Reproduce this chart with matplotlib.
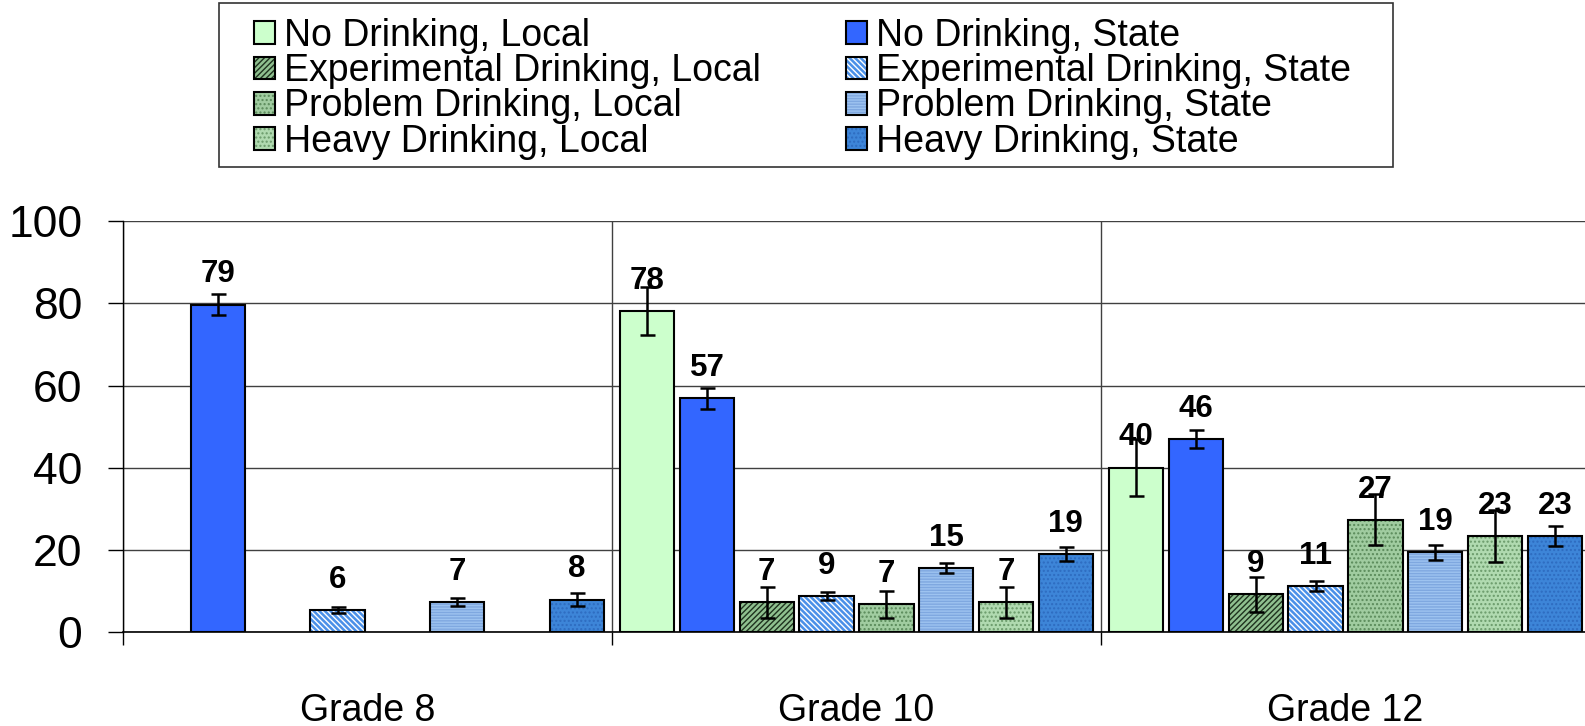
import numpy as np
import matplotlib
matplotlib.use("Agg")
import matplotlib.pyplot as plt
from matplotlib.patches import Rectangle

plt.rcParams['font.family'] = ['Liberation Sans', 'DejaVu Sans']
plt.rcParams['hatch.linewidth'] = 1.0

grades = ['Grade 8', 'Grade 10', 'Grade 12']
series_names = ['No Drinking, Local', 'No Drinking, State',
                'Experimental Drinking, Local', 'Experimental Drinking, State',
                'Problem Drinking, Local', 'Problem Drinking, State',
                'Heavy Drinking, Local', 'Heavy Drinking, State']

no_local = [np.nan, 78.2, 40.0]
no_state = [79.7, 56.9, 46.9]
exp_local = [np.nan, 7.2, 9.2]
exp_state = [5.4, 8.7, 11.1]
prob_local = [np.nan, 6.7, 27.3]
prob_state = [7.3, 15.6, 19.4]
heavy_local = [np.nan, 7.2, 23.4]
heavy_state = [7.9, 19.0, 23.4]

no_local_err = [np.nan, 5.8, 7.0]
no_state_err = [2.6, 2.5, 2.2]
exp_local_err = [np.nan, 3.7, 4.3]
exp_state_err = [0.8, 1.0, 1.2]
prob_local_err = [np.nan, 3.4, 6.2]
prob_state_err = [1.0, 1.3, 1.8]
heavy_local_err = [np.nan, 3.7, 6.3]
heavy_state_err = [1.5, 1.8, 2.5]

no_local_lbl = ['', '78', '40']
no_state_lbl = ['79', '57', '46']
exp_local_lbl = ['', '7', '9']
exp_state_lbl = ['6', '9', '11']
prob_local_lbl = ['', '7', '27']
prob_state_lbl = ['7', '15', '19']
heavy_local_lbl = ['', '7', '23']
heavy_state_lbl = ['8', '19', '23']

values = [no_local, no_state, exp_local, exp_state, prob_local, prob_state, heavy_local, heavy_state]
errors = [no_local_err, no_state_err, exp_local_err, exp_state_err,
          prob_local_err, prob_state_err, heavy_local_err, heavy_state_err]
labels = [no_local_lbl, no_state_lbl, exp_local_lbl, exp_state_lbl,
          prob_local_lbl, prob_state_lbl, heavy_local_lbl, heavy_state_lbl]

# (face, hatch, hatch colour)
styles = [
    ('#CCFFCC', None, '#CCFFCC'),
    ('#3366FF', None, '#3366FF'),
    ('#8FC08F', '//////', '#1E321E'),
    ('#4A90E8', '\\\\\\\\\\\\', '#FFFFFF'),
    ('#A0CCA0', '....', '#5A8A5A'),
    ('#9DC3F0', '------', '#7FA8E0'),
    ('#B0DAB0', '....', '#6A9A6A'),
    ('#3D85D8', '....', '#2E6CC0'),
]

fig = plt.figure(figsize=(15.85, 7.26), dpi=100)
ax = fig.add_axes([123/1585, 94/726, 1467/1585, 410.7/726])

x = np.arange(len(grades))
slot = 0.1223
bw = 0.1115
handles = []
for i, (vals, errs, lbls, (fc, h, hc)) in enumerate(zip(values, errors, labels, styles)):
    vals = np.array(vals, dtype=float)
    errs = np.array(errs, dtype=float)
    m = ~np.isnan(vals)
    xi = x[m] + (i - 3.5) * slot
    fill = ax.bar(xi, vals[m], width=bw, color=fc, hatch=h, edgecolor=hc,
                  linewidth=0, zorder=2)
    outline = ax.bar(xi, vals[m], width=bw, fill=False, edgecolor='black',
                     linewidth=1.5, zorder=3)
    ax.errorbar(xi, vals[m], yerr=errs[m], fmt='none', ecolor='black',
                elinewidth=1.8, capsize=5.4, capthick=1.8, zorder=4)
    for xx, vv, ll in zip(xi, vals[m], np.array(lbls)[m]):
        ax.annotate(ll, (xx, vv), xytext=(0, 16), textcoords='offset points',
                    ha='center', va='baseline', fontsize=22.5, fontweight='bold',
                    zorder=5)
    handles.append((fill.patches[0], outline.patches[0]))

ax.set_ylim(0, 100)
ax.set_xlim(-0.5, 2.5)
ax.set_yticks(np.arange(0, 101, 20))
ax.tick_params(axis='y', length=10.8, width=1, pad=18.5, labelsize=32, direction='out')
ax.set_xticks(x)
ax.set_xticklabels(grades, fontsize=27)
ax.tick_params(axis='x', which='major', length=0, pad=44)
ax.set_xticks([-0.5, 0.5, 1.5, 2.5], minor=True)
ax.tick_params(axis='x', which='minor', length=9.4, width=1, direction='out')
ax.grid(axis='y', color='#404040', linewidth=1, zorder=0)
ax.grid(axis='x', which='minor', color='#404040', linewidth=1, zorder=0)
ax.set_axisbelow(True)
for s in ['top', 'right']:
    ax.spines[s].set_visible(False)
ax.spines['left'].set_linewidth(1)
ax.spines['bottom'].set_linewidth(1.2)

# legend frame
fig.patches.append(Rectangle((219/1585, 1 - 167/726), 1174/1585, 164/726,
                             transform=fig.transFigure, fill=False,
                             edgecolor='#333333', linewidth=1.2))
order = [0, 2, 4, 6, 1, 3, 5, 7]
fig.legend([handles[k] for k in order], [series_names[k] for k in order],
           ncol=2, loc='upper left', bbox_to_anchor=(254/1585, 1 - 18/726),
           frameon=False, fontsize=27, handlelength=0.56, handleheight=0.56,
           handletextpad=0.25, labelspacing=-0.02, columnspacing=2.25,
           borderpad=0, borderaxespad=0)

fig.savefig('out.png', dpi=100)
